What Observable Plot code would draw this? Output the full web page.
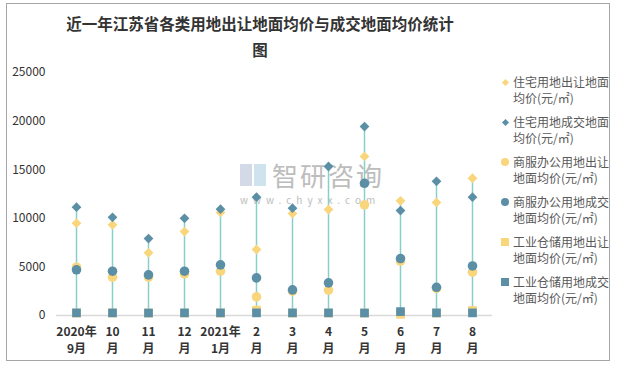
<!DOCTYPE html>
<html>
<head>
<meta charset="utf-8">
<script src="https://cdn.jsdelivr.net/npm/d3@7"></script>
<script src="https://cdn.jsdelivr.net/npm/@observablehq/plot@0.6"></script>
<style>
  html, body { margin: 0; padding: 0; background: #fff; }
  body { width: 619px; height: 368px; position: relative; overflow: hidden; font-family: "Noto Sans CJK SC", "Noto Sans", sans-serif; }
  #frame { position: absolute; left: 6px; top: 3px; width: 604px; height: 358px; border: 1px solid #a6a6a6; box-sizing: border-box; }
  #title { position: absolute; left: 0; top: 10px; width: 520px; text-align: center; font-size: 15.5px; font-weight: bold; color: #333; line-height: 26px; }
  #chart { position: absolute; left: 0; top: 60px; z-index: 2; }
  #wm { position: absolute; left: 240px; top: 158px; z-index: 1; color: #bdbdbd; }
  #legend { position: absolute; left: 500px; top: 74px; font-size: 12px; color: #595959; line-height: 16px; z-index: 3; }
  .item { position: relative; height: 40px; padding-left: 13px; white-space: nowrap; }
  .mk { position: absolute; left: 2px; top: 5px; }
</style>
</head>
<body>
<div id="frame"></div>
<div id="title">近一年江苏省各类用地出让地面均价与成交地面均价统计<br>图</div>
<div id="wm">
  <div style="position:absolute;left:0;top:6px;width:12px;height:22px;background:#d3d9e6;"></div>
  <div style="position:absolute;left:14px;top:6px;width:12px;height:22px;background:#cfe3ef;"></div>
  <div style="position:absolute;left:32px;top:2px;font-size:26px;letter-spacing:2px;line-height:30px;white-space:nowrap;">智研咨询</div>
  <div style="position:absolute;left:0;top:36px;font-size:10px;letter-spacing:5px;line-height:12px;white-space:nowrap;">www.chyxx.com</div>
</div>
<div id="chart"></div>
<div id="legend"></div>
<script>
const months = ["2020年\n9月", "10\n月", "11\n月", "12\n月", "2021年\n1月", "2\n月", "3\n月", "4\n月", "5\n月", "6\n月", "7\n月", "8\n月"];
const resSell = [9500, 9330, 6450, 8640, 10600, 6790, 10490, 10900, 16360, 11800, 11630, 14120];
const resDeal = [11140, 10100, 7920, 10000, 10940, 12170, 11040, 15330, 19440, 10800, 13800, 12170];
const comSell = [4970, 3940, 3950, 4290, 4560, 1920, 2500, 2600, 11390, 5600, 2800, 4460];
const comDeal = [4700, 4560, 4180, 4560, 5210, 3870, 2640, 3360, 13600, 5860, 2900, 5100];
const indSell = [250, 250, 250, 250, 250, 550, 250, 250, 250, 120, 250, 520];
const indDeal = [270, 270, 260, 270, 270, 270, 270, 270, 260, 400, 270, 270];
const seriesNames = [
  "住宅用地出让地面\n均价(元/㎡)",
  "住宅用地成交地面\n均价(元/㎡)",
  "商服办公用地出让\n地面均价(元/㎡)",
  "商服办公用地成交\n地面均价(元/㎡)",
  "工业仓储用地出让\n地面均价(元/㎡)",
  "工业仓储用地成交\n地面均价(元/㎡)"
];
const yTicks = [0, 5000, 10000, 15000, 20000, 25000];

const YEL = "#f9d57b", DARK = "#5a8fa5", LINE = "#88cfca";
const all = [resSell, resDeal, comSell, comDeal, indSell, indDeal];
const ranges = months.map((m, i) => ({m, lo: d3.min(all, s => s[i]), hi: d3.max(all, s => s[i])}));
const pts = s => months.map((m, i) => ({m, v: s[i]}));

const chart = Plot.plot({
  width: 619, height: 300,
  marginLeft: 56, marginRight: 127, marginTop: 12, marginBottom: 45,
  style: {background: "transparent", fontFamily: "'Noto Sans CJK SC', sans-serif"},
  x: {domain: months, type: "band", padding: 0, label: null},
  y: {domain: [0, 25000], label: null},
  marks: [
    Plot.ruleY(yTicks.slice(1), {stroke: "#d9d9d9", strokeDasharray: "2,2", strokeWidth: 1, x1: months[0], x2: months[11], insetLeft: -17, insetRight: -16}),
    Plot.ruleY([0], {stroke: "#d9d9d9", strokeWidth: 1.5}),
    Plot.axisY({ticks: yTicks, tickSize: 0, tickPadding: 11, fontSize: 12, fill: "#333", tickFormat: d => String(d)}),
    Plot.axisX({tickSize: 0, tickPadding: 9, fontSize: 12, fontWeight: "bold", fill: "#333", lineHeight: 1.4, tickFormat: d => d}),
    Plot.ruleX(ranges, {x: "m", y1: "lo", y2: "hi", stroke: LINE, strokeWidth: 1.5}),
    Plot.dot(pts(resSell), {x: "m", y: "v", symbol: "diamond2", r: 4.4, fill: YEL}),
    Plot.dot(pts(resDeal), {x: "m", y: "v", symbol: "diamond2", r: 4.4, fill: DARK}),
    Plot.dot(pts(comSell), {x: "m", y: "v", symbol: "circle", r: 4.8, fill: YEL}),
    Plot.dot(pts(comDeal), {x: "m", y: "v", symbol: "circle", r: 4.8, fill: DARK}),
    Plot.dot(pts(indSell), {x: "m", y: "v", symbol: "square", r: 4.9, fill: YEL}),
    Plot.dot(pts(indDeal), {x: "m", y: "v", symbol: "square", r: 4.9, fill: DARK})
  ]
});
document.getElementById("chart").appendChild(chart);

const marks = [
  {c: YEL, s: "d"}, {c: DARK, s: "d"}, {c: YEL, s: "c"}, {c: DARK, s: "c"}, {c: YEL, s: "s"}, {c: DARK, s: "s"}
];
const leg = document.getElementById("legend");
seriesNames.forEach((n, i) => {
  const it = document.createElement("div");
  it.className = "item";
  const mk = document.createElement("div");
  mk.className = "mk";
  const k = marks[i];
  if (k.s === "d") { mk.style.cssText += `width:5px;height:5px;background:${k.c};transform:rotate(45deg);left:3px;top:6px;`; }
  else if (k.s === "c") { mk.style.cssText += `width:8px;height:8px;border-radius:50%;background:${k.c};left:1px;top:4px;`; }
  else { mk.style.cssText += `width:8px;height:8px;background:${k.c};left:1px;top:4px;`; }
  it.appendChild(mk);
  const t = document.createElement("div");
  t.innerHTML = n.replace("\n", "<br>");
  it.appendChild(t);
  leg.appendChild(it);
});
</script>
</body>
</html>
